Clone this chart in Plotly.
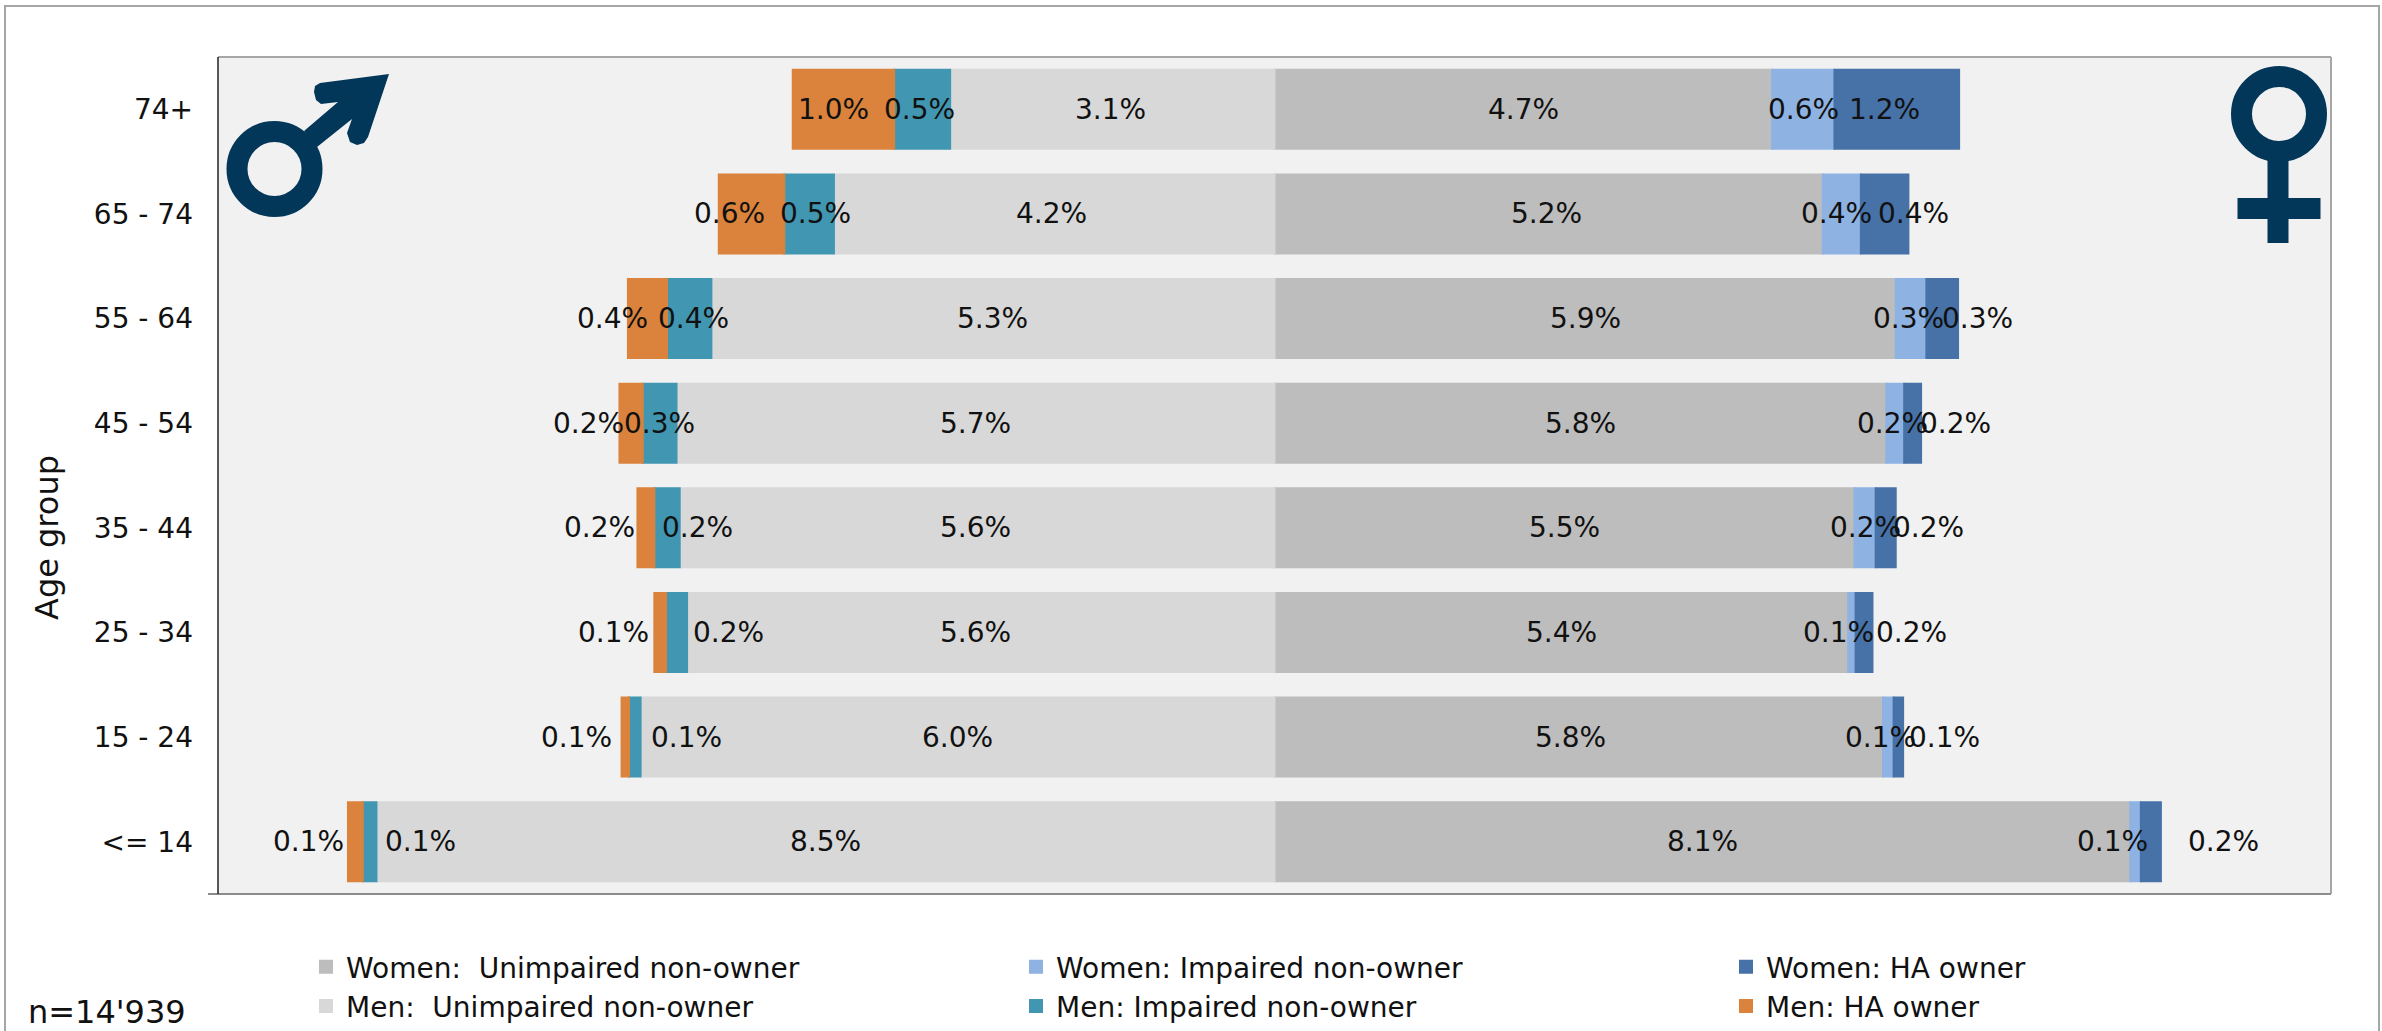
import plotly.graph_objects as go

W, H = 2382, 1031
L, R, T, B = 218, 2331, 57, 894

age_groups = ["<= 14", "15 - 24", "25 - 34", "35 - 44", "45 - 54", "55 - 64", "65 - 74", "74+"]

# Values in percent, youngest group first
women_unimpaired = [8.10, 5.76, 5.43, 5.49, 5.79, 5.88, 5.19, 4.71]
women_impaired = [0.10, 0.10, 0.07, 0.20, 0.17, 0.29, 0.36, 0.59]
women_owner = [0.19, 0.09, 0.16, 0.19, 0.16, 0.30, 0.45, 1.18]
men_unimpaired = [8.50, 6.00, 5.56, 5.63, 5.66, 5.33, 4.17, 3.07]
men_impaired = [0.13, 0.11, 0.20, 0.24, 0.32, 0.42, 0.47, 0.53]
men_owner = [0.14, 0.07, 0.11, 0.16, 0.22, 0.37, 0.62, 0.96]

# Printed labels (one decimal)
lab_women_unimpaired = ["8.1%", "5.8%", "5.4%", "5.5%", "5.8%", "5.9%", "5.2%", "4.7%"]
lab_women_impaired = ["0.1%", "0.1%", "0.1%", "0.2%", "0.2%", "0.3%", "0.4%", "0.6%"]
lab_women_owner = ["0.2%", "0.1%", "0.2%", "0.2%", "0.2%", "0.3%", "0.4%", "1.2%"]
lab_men_unimpaired = ["8.5%", "6.0%", "5.6%", "5.6%", "5.7%", "5.3%", "4.2%", "3.1%"]
lab_men_impaired = ["0.1%", "0.1%", "0.2%", "0.2%", "0.3%", "0.4%", "0.5%", "0.5%"]
lab_men_owner = ["0.1%", "0.1%", "0.1%", "0.2%", "0.2%", "0.4%", "0.6%", "1.0%"]

# Hand-placed data-label displacement in pixels, relative to each segment's centre
shift_women_unimpaired = [0, -8, 0, 0, 0, 0, -2, 0]
shift_women_impaired = [-23, -8, -13, 0, -3, -3, -5, 0]
shift_women_owner = [73, 46, 47, 43, 43, 35, 29, -12]
shift_men_unimpaired = [0, 0, -5, -2, 0, 0, -3, -2]
shift_men_impaired = [51, 52, 52, 30, 0, 4, 6, -3]
shift_men_owner = [-47, -49, -47, -46, -43, -35, -22, -10]

series = [
    ("Women:\u00a0 Unimpaired non-owner", women_unimpaired, lab_women_unimpaired, shift_women_unimpaired, "#bdbdbd", 1, "legend"),
    ("Women: Impaired non-owner", women_impaired, lab_women_impaired, shift_women_impaired, "#8eb3e3", 1, "legend2"),
    ("Women: HA owner", women_owner, lab_women_owner, shift_women_owner, "#4672a8", 1, "legend3"),
    ("Men:\u00a0 Unimpaired non-owner", men_unimpaired, lab_men_unimpaired, shift_men_unimpaired, "#d8d8d8", -1, "legend"),
    ("Men: Impaired non-owner", men_impaired, lab_men_impaired, shift_men_impaired, "#4197b2", -1, "legend2"),
    ("Men: HA owner", men_owner, lab_men_owner, shift_men_owner, "#db823c", -1, "legend3"),
]

FONT = "DejaVu Sans, Verdana, sans-serif"
TXT = "#111111"
SYMBOL = "#03375a"
EDGE = "#a6a6a6"


def px(x):
    return x / W


def py(y):
    return 1 - y / H


fig = go.Figure()
annotations = []
cum = {1: [0.0] * len(age_groups), -1: [0.0] * len(age_groups)}

for name, vals, labs, shifts, color, sign, legend_id in series:
    fig.add_trace(go.Bar(
        name=name, y=age_groups, x=[sign * v for v in vals], orientation="h",
        marker=dict(color=color, line=dict(color=color, width=2)),
        legend=legend_id, hoverinfo="name+y+x",
    ))
    for i, g in enumerate(age_groups):
        centre = sign * (cum[sign][i] + vals[i] / 2)
        cum[sign][i] += vals[i]
        annotations.append(dict(
            x=centre, y=g, xref="x", yref="y", text=labs[i], showarrow=False,
            xshift=shifts[i], font=dict(family=FONT, size=28, color=TXT),
        ))

annotations.append(dict(
    x=px(47), y=py(538), xref="paper", yref="paper", text="Age group", textangle=-90,
    xanchor="center", yanchor="middle",
    showarrow=False, font=dict(family=FONT, size=32, color=TXT),
))
annotations.append(dict(
    x=px(26), y=py(1012), xref="paper", yref="paper", text="n=14'939", xanchor="left", yanchor="middle",
    showarrow=False, font=dict(family=FONT, size=32, color=TXT),
))


def poly(points):
    head, *rest = points
    return f"M{px(head[0])},{py(head[1])}" + "".join(f"L{px(a)},{py(b)}" for a, b in rest) + "Z"


def line_shape(x0, y0, x1, y1, color, width):
    return dict(type="line", xref="paper", yref="paper", x0=px(x0), y0=py(y0), x1=px(x1), y1=py(y1),
                line=dict(color=color, width=width))


def ring(cx, cy, r):
    return dict(type="circle", xref="paper", yref="paper", x0=px(cx - r), x1=px(cx + r),
                y0=py(cy - r), y1=py(cy + r), line=dict(color=SYMBOL, width=21))


def solid(path):
    return dict(type="path", xref="paper", yref="paper", path=path,
                fillcolor=SYMBOL, line=dict(color=SYMBOL, width=0))


male_arrow = [(389, 74), (320, 83), (315, 86), (314, 92), (316, 100), (321, 104), (338, 102),
              (304, 131), (317, 147), (352, 119), (347, 133), (350, 142), (357, 145),
              (364, 143), (368, 137)]
female_cross = [(2267.5, 155), (2288.5, 155), (2288.5, 198), (2320.5, 198), (2320.5, 219),
                (2288.5, 219), (2288.5, 243), (2267.5, 243), (2267.5, 219), (2237.5, 219),
                (2237.5, 198), (2267.5, 198)]

shapes = [
    # outer chart frame
    dict(type="rect", xref="paper", yref="paper", x0=px(5), x1=px(2379), y0=py(1040), y1=py(6),
         line=dict(color=EDGE, width=2), fillcolor="rgba(0,0,0,0)"),
    # plot frame
    line_shape(L, T, R, T, EDGE, 2),
    line_shape(R, T, R, B, EDGE, 2),
    line_shape(208, B, R, B, "#8c8c8c", 2),
    line_shape(L, T, L, B, "#222222", 1.5),
    ring(274.5, 169, 37.5),
    solid(poly(male_arrow)),
    ring(2279, 114, 37.5),
    solid(poly(female_cross)),
]


def legend_at(x, y):
    return dict(orientation="v", x=px(x), y=py(y), xanchor="left", yanchor="top",
                traceorder="normal", font=dict(family=FONT, size=28, color=TXT),
                bgcolor="rgba(0,0,0,0)", itemclick=False, itemdoubleclick=False)


fig.update_layout(
    width=W, height=H,
    margin=dict(l=0, r=0, t=0, b=0, pad=0),
    paper_bgcolor="white", plot_bgcolor="#f1f1f1",
    barmode="relative", bargap=0.245,
    font=dict(family=FONT, size=28, color=TXT),
    xaxis=dict(range=[-10, 10], visible=False, fixedrange=True, domain=[px(L), px(R)]),
    yaxis=dict(categoryorder="array", categoryarray=age_groups, showline=False, showgrid=False,
               zeroline=False, ticks="", ticklabelstandoff=24, tickfont=dict(family=FONT, size=28, color=TXT),
               fixedrange=True, domain=[py(B), py(T)]),
    legend=legend_at(306, 942),
    legend2=legend_at(1016, 942),
    legend3=legend_at(1726, 942),
    annotations=annotations,
    shapes=shapes,
)

fig.write_html("out.html", config=dict(displayModeBar=False),
               post_script="document.body.style.margin='0';document.body.style.overflow='hidden';")
